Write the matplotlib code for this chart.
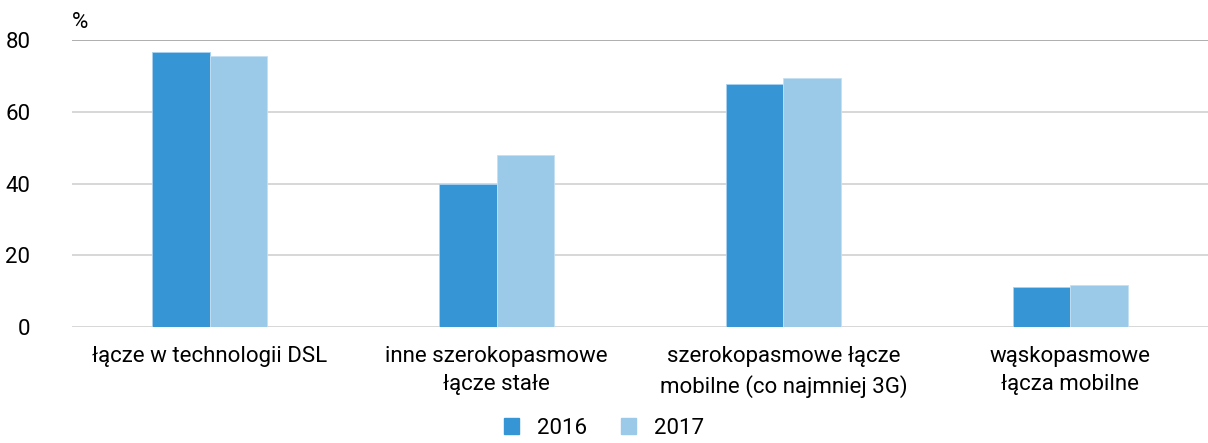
import matplotlib.pyplot as plt
import numpy as np
from matplotlib.patches import Patch

plt.rcParams['font.family'] = ['Roboto', 'DejaVu Sans']

categories = ["łącze w technologii DSL",
              "inne szerokopasmowe\nłącze stałe",
              "szerokopasmowe łącze\nmobilne (co najmniej 3G)",
              "wąskopasmowe\nłącza mobilne"]
years = ["2016", "2017"]
values_2016 = [76.7, 39.9, 67.7, 11.2]
values_2017 = [75.5, 47.9, 69.4, 11.7]
yticks = [0, 20, 40, 60, 80]

colors = ["#3595d5", "#9bcae9"]

fig = plt.figure(figsize=(12.08, 4.43), dpi=100, facecolor='white')
ax = fig.add_axes([72 / 1208, 116 / 443, 1 - 72 / 1208, 287 / 443])

x = np.arange(len(categories))
w = 0.2
ax.bar(x - w / 2, values_2016, w, color=colors[0], edgecolor='#a9d2ee', lw=0.6, zorder=3)
ax.bar(x + w / 2, values_2017, w, color=colors[1], edgecolor='#c5e0f3', lw=0.6, zorder=3)

ax.set_xlim(-0.48, 3.48)
ax.set_ylim(0, 80)
ax.set_yticks(yticks)
for v in yticks:
    ax.axhline(v, color='#a8a8a8' if v == 80 else '#d4d4d4', lw=1.3, zorder=1)
for s in ax.spines.values():
    s.set_visible(False)
ax.set_xticks(x)
ax.set_xticklabels(categories, fontsize=16, linespacing=1.4)
ax.tick_params(axis='x', length=0, pad=14)
ax.tick_params(axis='y', length=0, pad=30, labelsize=16)
ax.text(0, 1.025, "%", transform=ax.transAxes, fontsize=16, va='bottom', ha='left')

handles = [Patch(color=c, label=y) for c, y in zip(colors, years)]
fig.legend(handles=handles, loc='lower center', bbox_to_anchor=(0.5, -0.035),
           ncol=2, frameon=False, fontsize=16, handlelength=0.7, handleheight=0.7,
           handletextpad=0.8, columnspacing=1.5)

fig.savefig("out.png", dpi=100, facecolor='white')
